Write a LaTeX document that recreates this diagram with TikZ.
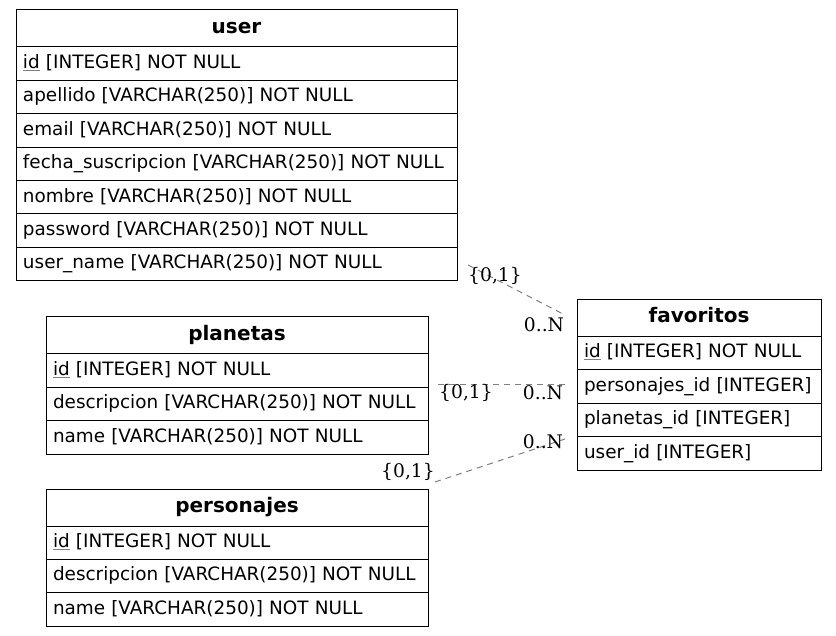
\documentclass[tikz,border=0pt]{standalone}
\usepackage{fontspec}
\newfontfamily\tabfont{DejaVu Sans}
\newfontfamily\cardfont{DejaVu Serif}
\newcommand{\tfsize}{\fontsize{18.4}{22}\selectfont}
\newcommand{\pk}[1]{{\color{gray}\underline{\textcolor{black}{#1}}}}
\begin{document}
\begin{tikzpicture}[x=1pt,y=-1pt,
  cellbox/.style={draw=black, line width=1pt, anchor=north west, outer sep=0pt,
    inner xsep=7pt, inner ysep=0pt, minimum height=33.4pt,
    text height=13.5pt, text depth=4pt, align=left, font=\tabfont\tfsize},
  headbox/.style={cellbox, minimum height=37pt, align=center,
    font=\tabfont\bfseries\fontsize{20}{22}\selectfont},
  wuser/.style={text width=427pt},
  wplan/.style={text width=368pt},
  wfav/.style={text width=230pt},
  rel/.style={draw=gray, line width=1pt, dash pattern=on 6pt off 5pt},
  card/.style={font=\cardfont\fontsize{18.7}{22}\selectfont, inner sep=0pt, text height=13.6pt, text depth=0pt}
]
\useasboundingbox (0,0) rectangle (836,636);
\fill[white] (0,0) rectangle (836,636);

% user
\node[headbox,wuser] (user) at (16,10) {user};
\node[cellbox,wuser] (user1) at (user.south west) {\pk{id} [INTEGER] NOT NULL};
\node[cellbox,wuser] (user2) at (user1.south west) {apellido [VARCHAR(250)] NOT NULL};
\node[cellbox,wuser] (user3) at (user2.south west) {email [VARCHAR(250)] NOT NULL};
\node[cellbox,wuser] (user4) at (user3.south west) {fecha\_suscripcion [VARCHAR(250)] NOT NULL};
\node[cellbox,wuser] (user5) at (user4.south west) {nombre [VARCHAR(250)] NOT NULL};
\node[cellbox,wuser] (user6) at (user5.south west) {password [VARCHAR(250)] NOT NULL};
\node[cellbox,wuser] (user7) at (user6.south west) {user\_name [VARCHAR(250)] NOT NULL};

% planetas
\node[headbox,wplan] (plan) at (46,317) {planetas};
\node[cellbox,wplan] (plan1) at (plan.south west) {\pk{id} [INTEGER] NOT NULL};
\node[cellbox,wplan] (plan2) at (plan1.south west) {descripcion [VARCHAR(250)] NOT NULL};
\node[cellbox,wplan] (plan3) at (plan2.south west) {name [VARCHAR(250)] NOT NULL};

% personajes
\node[headbox,wplan] (pers) at (46,489) {personajes};
\node[cellbox,wplan] (pers1) at (pers.south west) {\pk{id} [INTEGER] NOT NULL};
\node[cellbox,wplan] (pers2) at (pers1.south west) {descripcion [VARCHAR(250)] NOT NULL};
\node[cellbox,wplan] (pers3) at (pers2.south west) {name [VARCHAR(250)] NOT NULL};

% favoritos
\node[headbox,wfav] (fav) at (577,299.5) {favoritos};
\node[cellbox,wfav] (fav1) at (fav.south west) {\pk{id} [INTEGER] NOT NULL};
\node[cellbox,wfav] (fav2) at (fav1.south west) {personajes\_id [INTEGER]};
\node[cellbox,wfav] (fav3) at (fav2.south west) {planetas\_id [INTEGER]};
\node[cellbox,wfav] (fav4) at (fav3.south west) {user\_id [INTEGER]};

% relations
\coordinate (r1a) at (468,265);
\coordinate (r1b) at (563,314);
\coordinate (r2a) at (438,384.5);
\coordinate (r2b) at (566,384.5);
\coordinate (r3a) at (435,482);
\coordinate (r3b) at (565,439);
\draw[rel] (r1a) -- (r1b);
\draw[rel] (r2a) -- (r2b);
\draw[rel] (r3a) -- (r3b);

\node[card] (c1a) at (495,275) {\{0,1\}};
\node[card] (c1b) at (544,324.5) {0..N};
\node[card] (c2a) at (466,392) {\{0,1\}};
\node[card] (c2b) at (543,393) {0..N};
\node[card] (c3a) at (408,471) {\{0,1\}};
\node[card] (c3b) at (543,442) {0..N};
\end{tikzpicture}
\end{document}
